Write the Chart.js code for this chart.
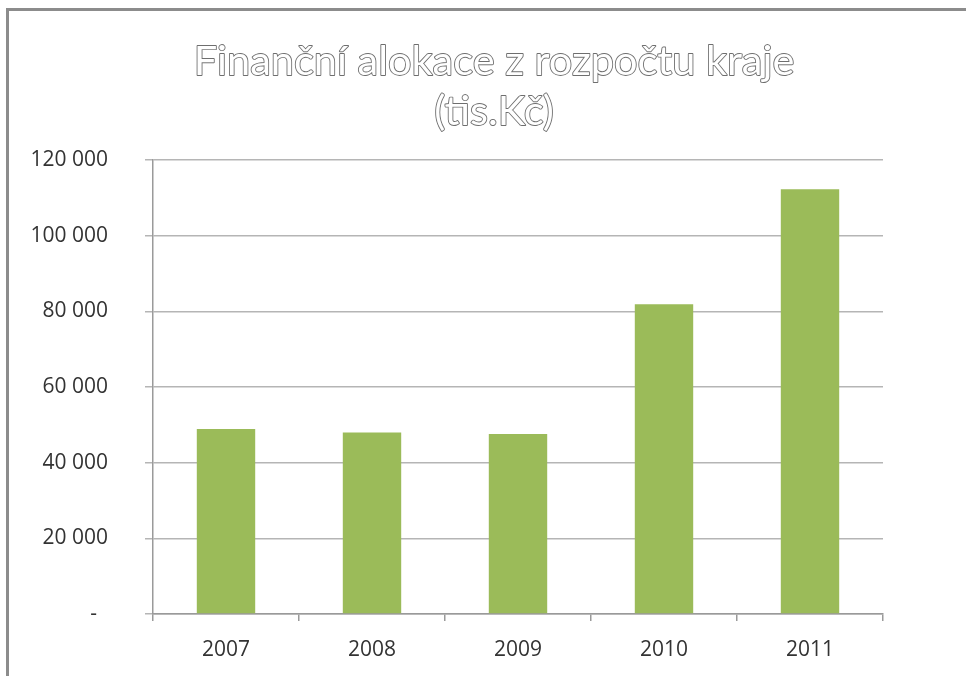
<!DOCTYPE html>
<html>
<head>
<meta charset="utf-8">
<script src="https://cdn.jsdelivr.net/npm/chart.js@4"></script>
<style>
  html, body { margin: 0; padding: 0; background: #fff; }
  #wrap { width: 966px; height: 676px; position: relative; }
</style>
</head>
<body>
<div id="wrap"><canvas id="myChart" width="966" height="676"></canvas></div>
<script>
var years = ['2007', '2008', '2009', '2010', '2011'];
var alokace = [48900, 48000, 47600, 81900, 112300];
var titleLines = ['Finanční alokace z rozpočtu kraje', '(tis.Kč)'];
var yTicks = [0, 20000, 40000, 60000, 80000, 100000, 120000];

function fmt(v) {
    if (v === 0) return '-  ';
    return String(v).replace(/\B(?=(\d{3})+(?!\d))/g, ' ');
}

// outlined title + frame, excel style
const frameTitle = {
    id: 'frameTitle',
    afterDraw(chart) {
        const c = chart.ctx;
        c.save();
        c.strokeStyle = '#8c8c8c';
        c.lineWidth = 3;
        c.strokeRect(7.5, 9.5, 1000, 1000);

        c.font = '41.5px Lato';
        c.textAlign = 'center';
        c.textBaseline = 'alphabetic';
        c.lineJoin = 'round';
        c.fillStyle = '#ffffff';
        c.strokeStyle = '#6e6e6e';
        c.lineWidth = 1.8;
        c.strokeText(titleLines[0], 494, 75);
        c.fillText(titleLines[0], 494, 75);
        c.strokeText(titleLines[1], 494, 125);
        c.fillText(titleLines[1], 494, 125);
        c.restore();
    }
};

const ctx = document.getElementById('myChart').getContext('2d');
const myChart = new Chart(ctx, {
    type: 'bar',
    data: {
        labels: years,
        datasets: [{
            data: alokace,
            backgroundColor: '#9BBB59',
            borderWidth: 0,
            barPercentage: 0.4,
            categoryPercentage: 1
        }]
    },
    options: {
        responsive: false,
        animation: false,
        layout: { padding: { top: 160, right: 83, left: 0, bottom: 0 } },
        plugins: {
            legend: { display: false },
            title: { display: false },
            tooltip: { enabled: false }
        },
        scales: {
            x: {
                grid: {
                    display: true,
                    drawOnChartArea: false,
                    drawTicks: true,
                    tickLength: 7,
                    color: '#9a9a9a',
                    lineWidth: 1.5
                },
                border: { color: '#9a9a9a', width: 1.5 },
                ticks: {
                    color: '#333',
                    font: { family: 'Open Sans', size: 21 },
                    padding: 16
                },
                afterFit: function (s) { s.height = 62; }
            },
            y: {
                min: 0,
                max: 120000,
                afterBuildTicks: function (s) {
                    s.ticks = yTicks.map(function (v) { return { value: v }; });
                },
                grid: {
                    color: '#b5b5b5',
                    lineWidth: 1.5,
                    tickLength: 8
                },
                border: { color: '#9a9a9a', width: 1.5 },
                ticks: {
                    color: '#333',
                    font: { family: 'Open Sans', size: 21 },
                    padding: 37,
                    callback: function (v) { return fmt(v); }
                },
                afterFit: function (s) { s.width = 153; }
            }
        }
    },
    plugins: [frameTitle]
});
</script>
</body>
</html>
